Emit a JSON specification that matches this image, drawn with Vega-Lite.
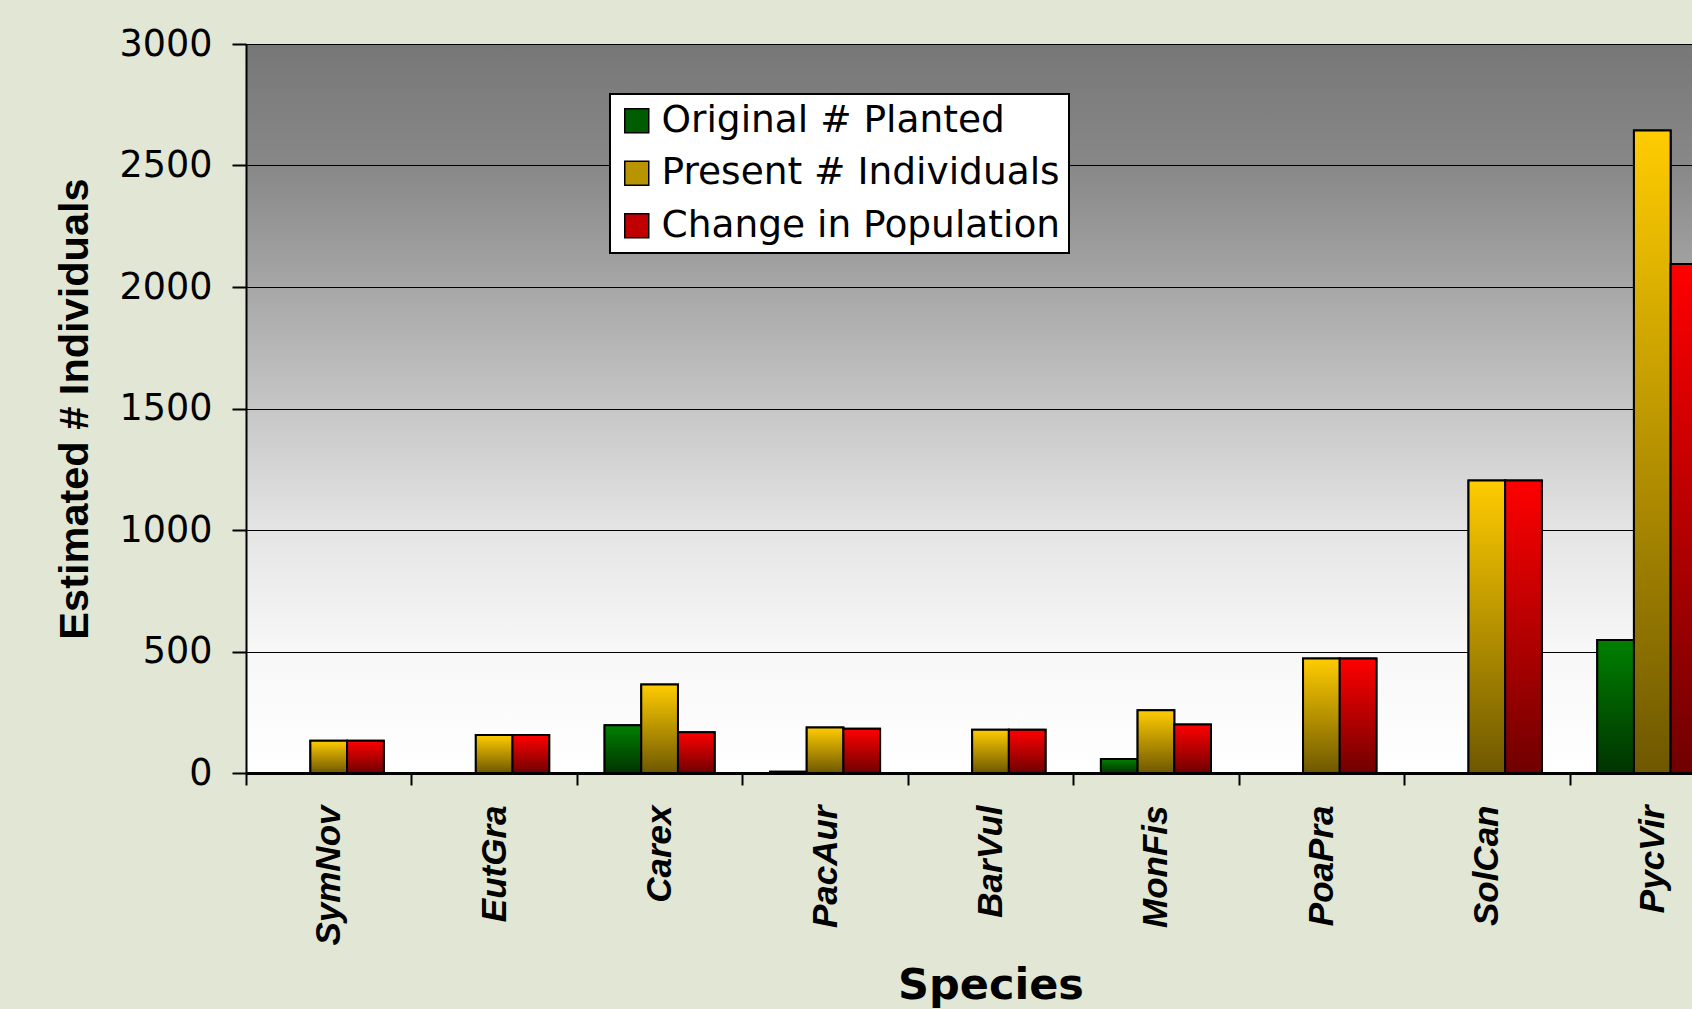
{
  "$schema": "https://vega.github.io/schema/vega-lite/v6.json",
  "autosize": {"type": "none"},
  "padding": {"left": 246, "top": 44, "right": 0, "bottom": 236},
  "width": 1446,
  "height": 729,
  "background": "#e2e6d4",
  "view": {
    "stroke": null,
    "fill": {
      "gradient": "linear", "x1": 0, "y1": 0, "x2": 0, "y2": 1,
      "stops": [
        {"offset": 0, "color": "#777777"},
        {"offset": 0.17, "color": "#888888"},
        {"offset": 0.33, "color": "#a6a6a6"},
        {"offset": 0.5, "color": "#c6c6c6"},
        {"offset": 0.67, "color": "#e5e5e5"},
        {"offset": 0.83, "color": "#f7f7f7"},
        {"offset": 1, "color": "#ffffff"}
      ]
    }
  },
  "config": {
    "axis": {"domainColor": "black", "tickColor": "black", "labelColor": "black", "titleColor": "black", "gridColor": "black"}
  },
  "data": {
    "values": [
      {"species": "SymNov", "series": "Original # Planted", "value": 0},
      {"species": "SymNov", "series": "Present # Individuals", "value": 133},
      {"species": "SymNov", "series": "Change in Population", "value": 133},
      {"species": "EutGra", "series": "Original # Planted", "value": 0},
      {"species": "EutGra", "series": "Present # Individuals", "value": 156},
      {"species": "EutGra", "series": "Change in Population", "value": 156},
      {"species": "Carex", "series": "Original # Planted", "value": 196},
      {"species": "Carex", "series": "Present # Individuals", "value": 364},
      {"species": "Carex", "series": "Change in Population", "value": 168},
      {"species": "PacAur", "series": "Original # Planted", "value": 5},
      {"species": "PacAur", "series": "Present # Individuals", "value": 187},
      {"species": "PacAur", "series": "Change in Population", "value": 182},
      {"species": "BarVul", "series": "Original # Planted", "value": 0},
      {"species": "BarVul", "series": "Present # Individuals", "value": 178},
      {"species": "BarVul", "series": "Change in Population", "value": 178},
      {"species": "MonFis", "series": "Original # Planted", "value": 58},
      {"species": "MonFis", "series": "Present # Individuals", "value": 258},
      {"species": "MonFis", "series": "Change in Population", "value": 200},
      {"species": "PoaPra", "series": "Original # Planted", "value": 0},
      {"species": "PoaPra", "series": "Present # Individuals", "value": 471},
      {"species": "PoaPra", "series": "Change in Population", "value": 471},
      {"species": "SolCan", "series": "Original # Planted", "value": 0},
      {"species": "SolCan", "series": "Present # Individuals", "value": 1204},
      {"species": "SolCan", "series": "Change in Population", "value": 1204},
      {"species": "PycVir", "series": "Original # Planted", "value": 547},
      {"species": "PycVir", "series": "Present # Individuals", "value": 2644},
      {"species": "PycVir", "series": "Change in Population", "value": 2095}
    ]
  },
  "encoding": {
    "x": {
      "field": "species", "type": "nominal", "sort": null,
      "scale": {"domain": ["SymNov", "EutGra", "Carex", "PacAur", "BarVul", "MonFis", "PoaPra", "SolCan", "PycVir"], "range": [0, 1489], "paddingInner": 0, "paddingOuter": 0},
      "axis": {
        "title": "Species", "titleFont": "DejaVu Sans", "titleFontSize": 43, "titleFontWeight": "bold",
        "titleY": 225, "titleBaseline": "alphabetic",
        "labelFont": "Liberation Sans", "labelFontSize": 35, "labelFontWeight": "bold", "labelFontStyle": "italic",
        "labelAngle": 270, "labelAlign": "right", "labelBaseline": "middle", "labelPadding": 20,
        "tickBand": "extent", "tickSize": 12, "tickWidth": 2, "domainWidth": 3, "grid": false
      }
    },
    "xOffset": {
      "field": "series", "type": "nominal",
      "scale": {"domain": ["Original # Planted", "Present # Individuals", "Change in Population"], "paddingInner": 0, "paddingOuter": 0.755}
    },
    "y": {
      "field": "value", "type": "quantitative",
      "scale": {"domain": [0, 3000], "nice": false},
      "axis": {
        "title": "Estimated # Individuals", "titleFont": "Liberation Sans", "titleFontSize": 41.5, "titleFontWeight": "bold",
        "titleAngle": 270, "titleX": -159, "titleY": 364.5, "titleAlign": "center", "titleBaseline": "alphabetic",
        "values": [0, 500, 1000, 1500, 2000, 2500, 3000], "format": "d",
        "labelFont": "DejaVu Sans", "labelFontSize": 36.5, "labelPadding": 20,
        "tickSize": 14, "tickWidth": 2, "domainWidth": 2, "grid": true, "gridWidth": 1.2
      }
    }
  },
  "layer": [
    {
      "mark": {"type": "bar", "stroke": "black", "strokeWidth": 2},
      "encoding": {
        "color": {
          "field": "series", "type": "nominal",
          "scale": {"domain": ["Original # Planted", "Present # Individuals", "Change in Population"], "range": ["#005c00", "#b89400", "#c00000"]},
          "legend": {
            "title": null, "orient": "none", "legendX": 364, "legendY": 50,
            "fillColor": "white", "strokeColor": "black", "padding": 8,
            "labelFont": "DejaVu Sans", "labelFontSize": 37.5, "labelColor": "black", "labelLimit": 600,
            "symbolType": "square", "symbolSize": 576, "symbolStrokeColor": "black", "symbolStrokeWidth": 1.5,
            "symbolOpacity": 1, "rowPadding": 13.5, "labelOffset": 6,
            "encode": {
              "legend": {"update": {"strokeWidth": {"value": 2}}}
            }
          }
        }
      }
    },
    {
      "transform": [{"filter": "datum.series === 'Original # Planted'"}],
      "mark": {"type": "bar", "stroke": "black", "strokeWidth": 2,
        "fill": {"gradient": "linear", "x1": 0, "y1": 0, "x2": 0, "y2": 1, "stops": [{"offset": 0, "color": "#008000"}, {"offset": 1, "color": "#003300"}]}}
    },
    {
      "transform": [{"filter": "datum.series === 'Present # Individuals'"}],
      "mark": {"type": "bar", "stroke": "black", "strokeWidth": 2,
        "fill": {"gradient": "linear", "x1": 0, "y1": 0, "x2": 0, "y2": 1, "stops": [{"offset": 0, "color": "#ffcc00"}, {"offset": 1, "color": "#6e5800"}]}}
    },
    {
      "transform": [{"filter": "datum.series === 'Change in Population'"}],
      "mark": {"type": "bar", "stroke": "black", "strokeWidth": 2,
        "fill": {"gradient": "linear", "x1": 0, "y1": 0, "x2": 0, "y2": 1, "stops": [{"offset": 0, "color": "#ff0000"}, {"offset": 1, "color": "#700000"}]}}
    }
  ]
}
